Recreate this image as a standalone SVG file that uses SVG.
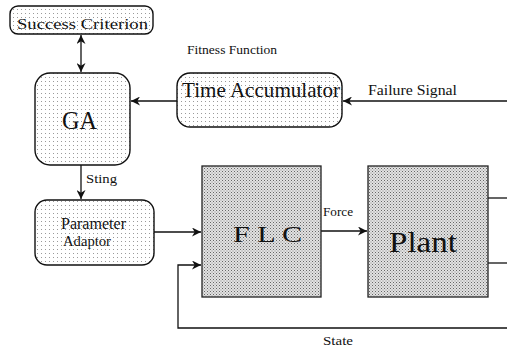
<svg xmlns="http://www.w3.org/2000/svg" width="507" height="348" viewBox="0 0 507 348">
  <defs>
    <!-- light stipple for the rounded blocks -->
    <pattern id="dotsLight" width="4" height="4" patternUnits="userSpaceOnUse">
      <rect width="4" height="4" fill="#ffffff"/>
      <rect x="1" y="1" width="1" height="1" fill="#9a9a9a"/>
    </pattern>
    <!-- dense stipple for the controller and plant -->
    <pattern id="dotsDense" width="3" height="3" patternUnits="userSpaceOnUse">
      <rect width="3" height="3" fill="#e2e2e2"/>
      <rect x="0" y="0" width="1" height="1" fill="#666666"/>
      <rect x="1.5" y="1.5" width="1" height="1" fill="#888888"/>
    </pattern>
    <marker id="arrow" viewBox="0 0 10 10" refX="10" refY="5" markerWidth="9" markerHeight="9" markerUnits="userSpaceOnUse" orient="auto-start-reverse">
      <path d="M0,0 L10,5 L0,10 L3,5 Z" fill="#111"/>
    </marker>
  </defs>
  <style>
    .soft { fill: url(#dotsLight); stroke: #111; stroke-width: 1.4; }
    .block { fill: url(#dotsDense); stroke: #222; stroke-width: 1.3; }
    .wire { fill: none; stroke: #111; stroke-width: 1.3; }
    .arr { marker-end: url(#arrow); }
  </style>

  <rect width="507" height="348" fill="#ffffff"/>

  <g id="connectors">
    <!-- success criterion <-> GA -->
    <line class="wire arr" x1="81" y1="35" x2="81" y2="72" marker-start="url(#arrow)"/>
    <!-- time accumulator -> GA -->
    <line class="wire arr" x1="177" y1="101" x2="131" y2="101"/>
    <!-- failure signal -> time accumulator -->
    <line class="wire arr" x1="507" y1="101" x2="343" y2="101"/>
    <!-- GA -> parameter adaptor -->
    <line class="wire arr" x1="81" y1="165" x2="81" y2="199"/>
    <!-- parameter adaptor -> FLC -->
    <line class="wire arr" x1="154" y1="232" x2="201" y2="232"/>
    <!-- FLC -> plant -->
    <line class="wire arr" x1="321" y1="231" x2="367" y2="231"/>
    <!-- plant outputs -->
    <line class="wire" x1="488" y1="198" x2="507" y2="198"/>
    <line class="wire" x1="488" y1="263" x2="507" y2="263"/>
    <!-- state feedback -->
    <polyline class="wire arr" points="507,328 178,328 178,265 201,265"/>
  </g>

  <g font-family="'Liberation Serif', 'Times New Roman', Times, serif" fill="#111">
    <g id="success-criterion">
      <rect class="soft" x="10" y="6" width="143" height="28" rx="8"/>
      <text x="17" y="29" font-size="15" textLength="131" lengthAdjust="spacingAndGlyphs">Success Criterion</text>
    </g>

    <g id="fitness-label">
      <text x="187" y="54" font-size="12" textLength="90" lengthAdjust="spacingAndGlyphs">Fitness Function</text>
    </g>

    <g id="ga">
      <rect class="soft" x="35" y="73" width="95" height="92" rx="15"/>
      <text x="62" y="129" font-size="25" textLength="35" lengthAdjust="spacingAndGlyphs">GA</text>
    </g>

    <g id="time-accumulator">
      <rect class="soft" x="177" y="73" width="165" height="54" rx="13"/>
      <text x="182" y="97" font-size="22" textLength="158" lengthAdjust="spacingAndGlyphs">Time Accumulator</text>
    </g>

    <g id="failure-label">
      <text x="368" y="95" font-size="14" textLength="89" lengthAdjust="spacingAndGlyphs">Failure Signal</text>
    </g>

    <g id="string-label">
      <text x="86" y="183" font-size="13" textLength="31" lengthAdjust="spacingAndGlyphs">Sting</text>
    </g>

    <g id="parameter-adaptor">
      <rect class="soft" x="35" y="200" width="119" height="65" rx="12"/>
      <text x="61" y="229" font-size="16" textLength="65" lengthAdjust="spacingAndGlyphs">Parameter</text>
      <text x="63" y="246" font-size="14" textLength="48" lengthAdjust="spacingAndGlyphs">Adaptor</text>
    </g>

    <g id="flc">
      <rect class="block" x="202" y="166" width="119" height="131"/>
      <text x="233" y="242" font-size="24" textLength="69" lengthAdjust="spacingAndGlyphs">F L C</text>
    </g>

    <g id="force-label">
      <text x="323" y="216" font-size="12" textLength="30" lengthAdjust="spacingAndGlyphs">Force</text>
    </g>

    <g id="plant">
      <rect class="block" x="368" y="166" width="120" height="131"/>
      <text x="389" y="252" font-size="30" textLength="68" lengthAdjust="spacingAndGlyphs">Plant</text>
    </g>

    <g id="state-label">
      <text x="323" y="345" font-size="13" textLength="30" lengthAdjust="spacingAndGlyphs">State</text>
    </g>
  </g>
</svg>
